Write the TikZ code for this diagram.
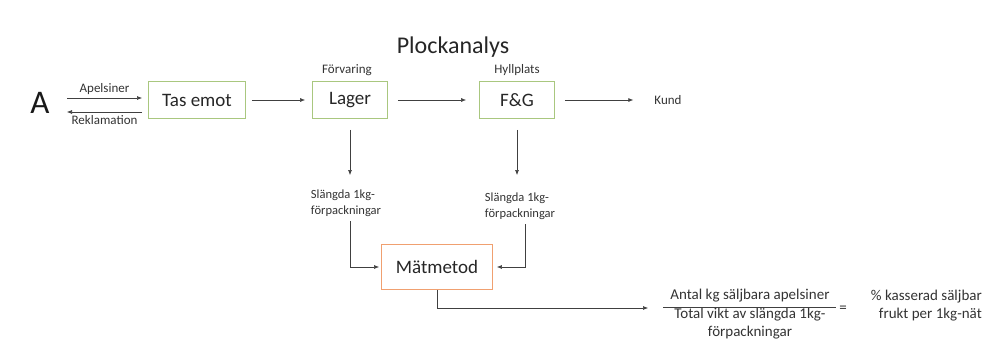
\documentclass[tikz,border=0pt]{standalone}
\usepackage{fontspec}
\setmainfont{Carlito}
\usetikzlibrary{arrows.meta}
\definecolor{boxgreen}{HTML}{A9C77F}
\definecolor{boxorange}{HTML}{F0A070}
\definecolor{linegray}{HTML}{404040}
\tikzset{
  procbox/.style={draw=boxgreen, line width=0.8pt, minimum height=37pt, inner sep=0pt, font=\fontsize{19}{22}\selectfont, text=black!85},
  measbox/.style={draw=boxorange, line width=0.9pt, minimum width=111pt, minimum height=45pt, inner sep=0pt, font=\fontsize{19}{22}\selectfont, text=black!85},
  smalllbl/.style={font=\fontsize{13}{15}\selectfont, text=black!80, inner sep=1pt},
  tinylbl/.style={font=\fontsize{12.5}{15.5}\selectfont, text=black!80, align=left, inner sep=1pt},
  fraclbl/.style={font=\fontsize{15}{18}\selectfont, text=black!80, inner sep=1pt},
  flow/.style={draw=linegray, line width=0.6pt, -{Latex[length=5pt,width=4pt]}},
}
\begin{document}
\begin{tikzpicture}[x=1pt,y=-1pt]
\useasboundingbox (0,0) rectangle (986,343);
\node[font=\fontsize{24}{28}\selectfont, text=black!85] (title) at (453,47) {Plockanalys};
\node[font=\fontsize{33}{36}\selectfont, text=black!90] (A) at (40,103) {A};

\node[procbox, minimum width=97pt] (tas) at (197,100) {Tas emot};
\node[procbox, minimum width=75pt] (lager) at (350,100) {Lager};
\node[procbox, minimum width=75pt] (fg) at (517,100) {F\&G};
\node[measbox] (mat) at (437,267) {Mätmetod};

\node[smalllbl] (forv) at (347,70) {Förvaring};
\node[smalllbl] (hyll) at (517,70) {Hyllplats};
\node[smalllbl] (kund) at (668,100) {Kund};

\coordinate (apS) at (67,98);
\coordinate (apE) at (142,98);
\coordinate (reS) at (142,112);
\coordinate (reE) at (67,112);
\draw[flow] (apS) -- node[smalllbl, above=2pt] (apl) {Apelsiner} (apE);
\draw[flow] (reS) -- node[smalllbl, below=2pt] (rekl) {Reklamation} (reE);

\draw[flow] ([xshift=6pt]tas.east) -- ([xshift=-7pt]lager.west);
\draw[flow] ([xshift=10pt]lager.east) -- ([xshift=-13pt]fg.west);
\draw[flow] ([xshift=10pt]fg.east) -- ([xshift=-20pt]kund.west);

\node[tinylbl] (sl1) at (346,203) {Slängda 1kg-\\förpackningar};
\node[tinylbl] (sl2) at (520,206) {Slängda 1kg-\\förpackningar};

\coordinate (d1) at (350,175);
\coordinate (d2) at (517,175);
\draw[flow] ([yshift=-11pt]lager.south) -- (d1);
\draw[flow] ([yshift=-11pt]fg.south) -- (d2);

\coordinate (u1) at (350,221);
\coordinate (u2) at (525,224);
\draw[flow] (u1) |- ([xshift=-2pt]mat.west);
\draw[flow] (u2) |- ([xshift=4pt]mat.east);

\node[fraclbl] (num) at (750,296) {Antal kg säljbara apelsiner};
\node[fraclbl, align=center] (den) at (750,324) {Total vikt av slängda 1kg-\\förpackningar};
\coordinate (fl) at (663,307);
\coordinate (fr) at (836,307);
\draw[draw=linegray, line width=0.6pt] (fl) -- (fr);
\node[fraclbl] (eq) at (843,309) {=};
\node[fraclbl, align=right, anchor=east] (res) at (983,306) {\% kasserad säljbar\\frukt per 1kg-nät};

\coordinate (ct) at (437,308);
\coordinate (fe) at (648,308);
\draw[flow] (mat.south) -- (ct) -- (fe);
\end{tikzpicture}
\end{document}
